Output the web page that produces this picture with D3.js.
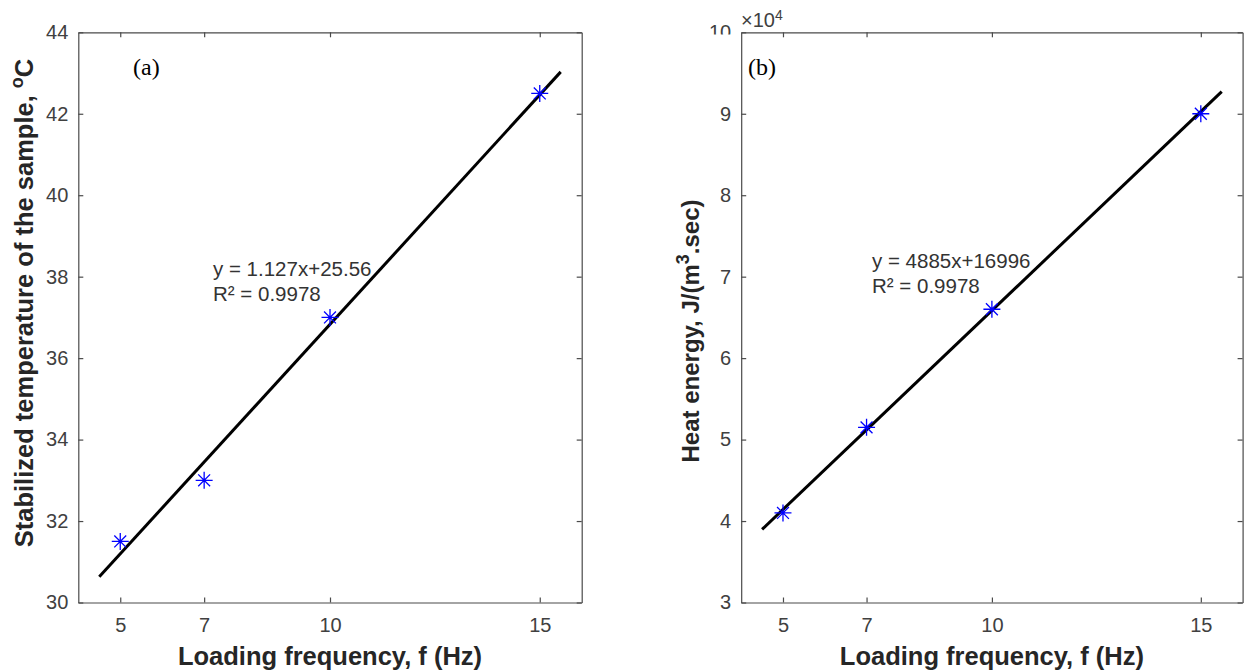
<!DOCTYPE html>
<html>
<head>
<meta charset="utf-8">
<script src="https://cdn.jsdelivr.net/npm/d3@7"></script>
<style>
  body { margin: 0; background: #fff; }
  text { font-family: "Liberation Sans", Arial, Helvetica, sans-serif; }
</style>
</head>
<body>
<div class="chart-container"></div>
<script>
var w = 1244;
var h = 672;

// data
var freq = [5, 7, 10, 15];
var tempVals = [31.5, 33, 37, 42.5];
var heatVals = [41000, 51500, 66000, 90000];

// trend lines (coefficients printed on the chart)
var fitRange = [4.5, 15.5];
var fitA = [1.127, 25.56];
var fitB = [4885, 16996];

var xTicks = [5, 7, 10, 15];
var yTicksA = [30, 32, 34, 36, 38, 40, 42, 44];
var yTicksB = [3, 4, 5, 6, 7, 8, 9, 10];

var svg = d3.select(".chart-container")
    .append("svg")
    .attr("width", w)
    .attr("height", h);

var axisColor = "#4a4a4a";
var labelColor = "#404040";

var defs = svg.append("defs");

function drawPanel(p) {
    var x = d3.scaleLinear().domain([4, 16]).range([p.left, p.right]);
    var y = d3.scaleLinear().domain(p.yDomain).range([p.bottom, p.top]);
    var g = svg.append("g");

    // bottom axis with labels, ticks pointing inward
    var gx = g.append("g")
        .attr("transform", "translate(0," + p.bottom + ")")
        .call(d3.axisBottom(x).tickValues(xTicks).tickSizeInner(-5).tickSizeOuter(0).tickPadding(15));
    var gy = g.append("g")
        .attr("transform", "translate(" + p.left + ",0)")
        .call(d3.axisLeft(y).tickValues(p.yTicks).tickFormat(p.yFormat).tickSizeInner(-5).tickSizeOuter(0).tickPadding(10));
    var gt = g.append("g")
        .attr("transform", "translate(0," + p.top + ")")
        .call(d3.axisTop(x).tickValues(xTicks).tickFormat("").tickSizeInner(-5).tickSizeOuter(0));
    var gr = g.append("g")
        .attr("transform", "translate(" + p.right + ",0)")
        .call(d3.axisRight(y).tickValues(p.yTicks).tickFormat("").tickSizeInner(-5).tickSizeOuter(0));

    [gx, gy, gt, gr].forEach(function (a) {
        a.attr("font-size", null).attr("font-family", null);
        a.selectAll("path, line").attr("stroke", axisColor).attr("stroke-width", 1.2);
        a.selectAll("text")
            .attr("fill", labelColor)
            .style("font-size", "20px");
    });
    if (p.clipTop) {
        // top tick label is partly hidden in the original
        defs.append("clipPath")
            .attr("id", p.clipTop)
            .append("rect")
            .attr("x", -70).attr("y", 0).attr("width", 68).attr("height", 34);
        gy.selectAll(".tick")
            .filter(function (d) { return d === p.yDomain[1]; })
            .select("text")
            .attr("transform", "translate(0," + (-y(p.yDomain[1])) + ")")
            .attr("y", y(p.yDomain[1]))
            .attr("clip-path", "url(#" + p.clipTop + ")");
    }

    // fit line
    var line = d3.line()
        .x(function (d) { return x(d); })
        .y(function (d) { return y(p.fit[0] * d + p.fit[1]); });
    g.append("path")
        .datum(fitRange)
        .attr("d", line)
        .attr("fill", "none")
        .attr("stroke", "#000")
        .attr("stroke-width", 3);

    // asterisk markers (MATLAB '*')
    var r = 8.5;
    g.selectAll(".mark")
        .data(freq)
        .enter()
        .append("path")
        .attr("class", "mark")
        .attr("transform", function (d, i) { return "translate(" + x(d) + "," + y(p.values[i]) + ")"; })
        .attr("d", "M" + (-r) + ",0H" + r + "M0," + (-r) + "V" + r +
            "M" + (-r * 0.7) + "," + (-r * 0.7) + "L" + (r * 0.7) + "," + (r * 0.7) +
            "M" + (-r * 0.7) + "," + (r * 0.7) + "L" + (r * 0.7) + "," + (-r * 0.7))
        .attr("stroke", "#0000ff")
        .attr("stroke-width", 1.3)
        .attr("fill", "none");

    // equation text
    g.append("text")
        .attr("x", p.eqX)
        .attr("y", p.eqY)
        .attr("fill", "#333")
        .style("font-size", "20.5px")
        .text(p.eqText);
    g.append("text")
        .attr("x", p.eqX)
        .attr("y", p.eqY + 25)
        .attr("fill", "#333")
        .style("font-size", "20.5px")
        .text("R² = 0.9978");

    // panel letter
    g.append("text")
        .attr("x", p.letterX)
        .attr("y", 75)
        .attr("fill", "#000")
        .style("font-family", "'Liberation Serif', 'Times New Roman', serif")
        .style("font-size", "24px")
        .text(p.letter);

    // x title
    g.append("text")
        .attr("x", (p.left + p.right) / 2)
        .attr("y", 665)
        .attr("text-anchor", "middle")
        .attr("fill", "#262626")
        .style("font-size", "25.5px")
        .style("font-weight", "bold")
        .text("Loading frequency, f (Hz)");

    // y title
    var yt = g.append("text")
        .attr("transform", "translate(" + p.yTitleX + "," + p.yTitleY + ") rotate(-90)")
        .attr("text-anchor", "middle")
        .attr("fill", "#262626")
        .style("font-size", p.yTitleSize)
        .style("font-weight", "bold");
    p.yTitle.forEach(function (part) {
        var t = yt.append("tspan").text(part.t);
        if (part.sup) {
            t.attr("dy", "-0.55em").style("font-size", "18px");
        } else if (part.down) {
            t.attr("dy", "0.4em");
        }
    });

    return { x: x, y: y };
}

drawPanel({
    left: 78.3, right: 581.7, top: 32.3, bottom: 602.5,
    yDomain: [30, 44], yTicks: yTicksA, yFormat: d3.format("d"),
    values: tempVals, fit: fitA,
    eqText: "y = 1.127x+25.56", eqX: 213, eqY: 276,
    letter: "(a)", letterX: 133,
    yTitleX: 33, yTitleY: 303, yTitleSize: "25.5px",
    yTitle: [{ t: "Stabilized temperature of the sample, " }, { t: "o", sup: true }, { t: "C", down: true }]
});

drawPanel({
    left: 741.2, right: 1242.6, top: 32.3, bottom: 602.5,
    yDomain: [30000, 100000], yTicks: yTicksB.map(function (d) { return d * 10000; }),
    yFormat: function (d) { return d / 10000; },
    values: heatVals, fit: fitB,
    eqText: "y = 4885x+16996", eqX: 872, eqY: 268,
    letter: "(b)", letterX: 748,
    yTitleX: 699, yTitleY: 331, yTitleSize: "24px",
    yTitle: [{ t: "Heat energy, J/(m" }, { t: "3", sup: true }, { t: ".sec)", down: true }],
    clipTop: "clipB"
});

// x10^4 exponent label of panel (b)
var ex = svg.append("text")
    .attr("x", 741)
    .attr("y", 27)
    .attr("fill", labelColor)
    .style("font-size", "20px");
ex.append("tspan").text("×10");
ex.append("tspan").attr("dy", "-0.5em").style("font-size", "14px").text("4");
</script>
</body>
</html>
